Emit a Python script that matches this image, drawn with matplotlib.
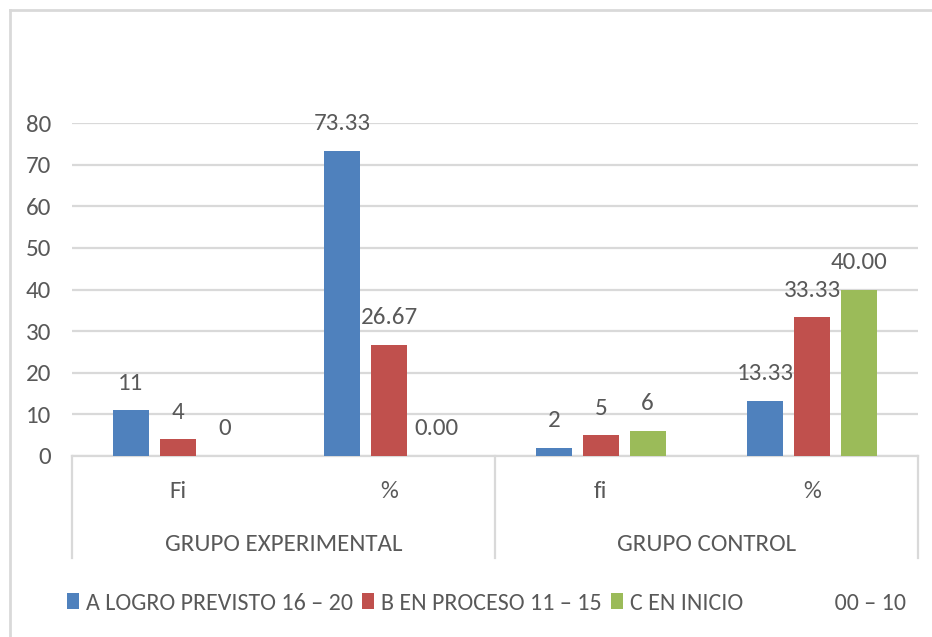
import matplotlib
matplotlib.use("Agg")
import matplotlib.pyplot as plt
from matplotlib.patches import Patch
from matplotlib.lines import Line2D
import matplotlib.transforms as mtransforms
import numpy as np

# ----------------------------------------------------------------------
# datos
# ----------------------------------------------------------------------
subcats = ["Fi", "%", "fi", "%"]
groups = ["GRUPO EXPERIMENTAL", "GRUPO CONTROL"]
series_names = ["A LOGRO PREVISTO 16 – 20", "B EN PROCESO 11 – 15",
                "C EN INICIO" + " " * 17 + "00 – 10"]
logro = [11, 73.33, 2, 13.33]
proceso = [4, 26.67, 5, 33.33]
inicio = [0, 0.00, 6, 40.00]
yticks = [0, 10, 20, 30, 40, 50, 60, 70, 80]

colors = ["#4f81bd", "#c0504d", "#9bbb59"]
TXT = "#595959"
GRID = "#d9d9d9"
FS = 18
FS_LEG = 17.3

plt.rcParams["font.family"] = ["Carlito", "DejaVu Sans"]

W, H = 932, 637
fig = plt.figure(figsize=(W / 100, H / 100), dpi=100)
ax = fig.add_axes([72 / W, 1 - 456 / H, (918 - 72) / W, (456 - 123) / H])

x = np.arange(len(subcats))
width = 0.17
step = 0.222
for i, (vals, col) in enumerate(zip([logro, proceso, inicio], colors)):
    bars = ax.bar(x + (i - 1) * step, vals, width, color=col, zorder=3)
    labs = [f"{v:.2f}" if subcats[k] == "%" else f"{v:.0f}" for k, v in enumerate(vals)]
    ax.bar_label(bars, labels=labs, padding=12, fontsize=FS, color=TXT)

ax.set_xlim(-0.5, len(subcats) - 0.5)
ax.set_ylim(0, 80)
ax.set_yticks(yticks)
ax.set_xticks([])
ax.tick_params(axis="y", length=0, pad=15, labelsize=FS, labelcolor=TXT)
ax.yaxis.grid(True, color=GRID, lw=1.6, zorder=0)
for s in ["left", "right", "top"]:
    ax.spines[s].set_visible(False)
ax.spines["bottom"].set_color(GRID)
ax.spines["bottom"].set_linewidth(1.6)

# eje de categorias de dos niveles
trans = mtransforms.blended_transform_factory(ax.transData, ax.transAxes)
for xv in [-0.5, 1.5, 3.5]:
    ax.add_line(Line2D([xv, xv], [0, -0.306], transform=trans, color=GRID,
                       lw=1.6, clip_on=False))
for k, lab in enumerate(subcats):
    ax.text(k, -0.108, lab, transform=trans, ha="center", va="center",
            fontsize=FS, color=TXT)
for g, lab in enumerate(groups):
    ax.text(2 * g + 0.5, -0.267, lab, transform=trans, ha="center", va="center",
            fontsize=FS, color=TXT)

# borde del grafico
fig.add_artist(Line2D([10 / W, 1], [1 - 10 / H, 1 - 10 / H], color=GRID, lw=2))
fig.add_artist(Line2D([10 / W, 10 / W], [0, 1 - 10 / H], color=GRID, lw=2))

handles = [Patch(facecolor=c) for c in colors]
fig.legend(handles, series_names, ncol=3, loc="center left",
           bbox_to_anchor=(67 / W, 1 - 603 / H), frameon=False,
           fontsize=FS_LEG, labelcolor=TXT, handlelength=0.5, handleheight=0.68,
           handletextpad=0.28, columnspacing=0.4, borderpad=0, borderaxespad=0)

fig.savefig("out.png", dpi=100)
